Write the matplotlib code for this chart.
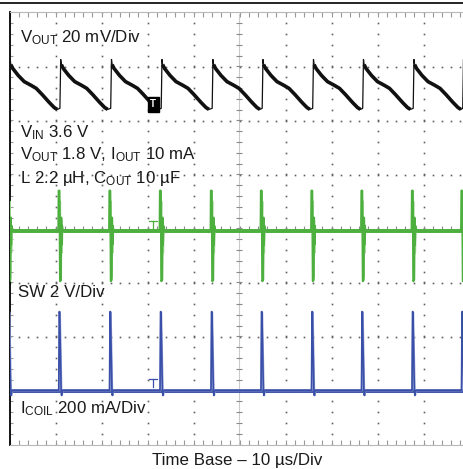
import numpy as np
import matplotlib
matplotlib.use("Agg")
import matplotlib.pyplot as plt
from matplotlib.lines import Line2D
from matplotlib.patches import Rectangle

plt.rcParams['font.family'] = ['Liberation Sans', 'DejaVu Sans']
plt.rcParams['mathtext.fontset'] = 'custom'
plt.rcParams['mathtext.rm'] = 'Liberation Sans'
plt.rcParams['mathtext.it'] = 'Liberation Sans:italic'

# scope settings
T_DIV = 10.0        # us / div
VOUT_DIV = 20.0     # mV / div
SW_DIV = 2.0        # V / div
ICOIL_DIV = 200.0   # mA / div
VOUT_POS = 2.6      # channel offsets (div)
SW_POS = 0.0
ICOIL_POS = -3.0
TRIG_T = 31.2       # us

# switching events (us), read from the SW / ICOIL spikes
pulse_t = [-0.28, 10.70, 21.74, 32.72, 43.80, 54.67, 65.65, 76.52, 87.50, 98.26]

# VOUT ripple for one cycle after each event: time after event (us), ripple (mV)
vout_dt = [0.26, 0.43, 0.57, 0.98, 2.17, 3.48, 5.00, 6.09, 7.39, 8.91, 10.00, 10.65]
vout_mv = [-7.5, 10.6, 8.7, 7.3, 4.7, 2.4, 1.0, -0.1, -2.4, -5.3, -7.2, -7.9]

# SW node ringing around each event (V)
sw_base = -0.1
sw_dt = [-0.07, 0.00, 0.15, 0.22, 0.30, 0.46, 0.54, 0.62, 0.72, 0.85]
sw_v = [-0.1, 1.4, 1.4, 0.2, -1.95, -1.9, 0.4, -0.6, 0.1, -0.1]
sw_ring_dt = [0.05, 0.18, 0.30, 0.42, 0.55, 0.68]
sw_ring_v = [-0.1, 1.0, -1.8, 0.3, -0.9, -0.1]

# inductor current pulse (mA)
icoil_base = 0.0
icoil_dt = [-0.07, 0.00, 0.12, 0.20, 0.52, 0.62, 0.78]
icoil_ma = [0, 0, 292, 288, 0, -18, 0]


def build(events, dt, vals, skip=0, gap=False):
    t, v = [], []
    for e in events:
        for d, val in list(zip(dt, vals))[skip:]:
            t.append(e + d)
            v.append(val)
        if gap:
            t.append(np.nan)
            v.append(np.nan)
    return np.array(t), np.array(v)


W, H = 463, 469
fig = plt.figure(figsize=(W / 100, H / 100), dpi=100)
x0, x1, ytop, ybot = 9.5, 463, 12.5, 444.5
ax = fig.add_axes([x0 / W, 1 - ybot / H, (x1 - x0) / W, (ybot - ytop) / H])
xmax = (x1 - x0) / 46.0
ax.set_xlim(0, xmax)
ax.set_ylim(-4, 4)

# frame
ax.spines['right'].set_visible(False)
ax.spines['left'].set_color('black')
ax.spines['left'].set_linewidth(1.3)
for s in ['top', 'bottom']:
    ax.spines[s].set_color('#b8b8b8')
    ax.spines[s].set_linewidth(0.8)
ax.set_xticks(np.arange(0, xmax, 0.2))
ax.set_yticks(np.arange(-4, 4.01, 0.2))
ax.tick_params(axis='x', top=True, bottom=True, direction='in', length=3.5,
               width=0.8, color='#999999', labelbottom=False)
ax.tick_params(axis='y', left=True, direction='in', length=2, width=0.8,
               color='#999999', labelleft=False)

# dotted graticule
minor_y = np.arange(-4, 4.01, 0.2)
minor_x = np.arange(0, xmax, 0.2)
for gx in range(1, 10):
    if gx == 5:
        continue
    ax.plot(np.full_like(minor_y, gx), minor_y, ls='none', marker='s', ms=1.2,
            mew=0, color='#606060', zorder=1)
for gy in [-3, -2, -1, 1, 2, 3]:
    ax.plot(minor_x, np.full_like(minor_x, gy), ls='none', marker='s', ms=1.2,
            mew=0, color='#606060', zorder=1)
# centre axes
ax.plot([0, xmax], [0, 0], ls=(0, (0.8, 1.0)), lw=0.8, color='#8a8a8a', zorder=1)
ax.plot(minor_x, np.zeros_like(minor_x), ls='none', marker='|', ms=4, mew=0.8,
        color='#8a8a8a', zorder=1)
ax.plot([4.98, 4.98], [-4, 4], ls=(0, (0.8, 1.0)), lw=0.8, color='#8a8a8a', zorder=1)
ax.plot(np.full_like(minor_y, 4.98), minor_y, ls='none', marker='_', ms=4, mew=0.8,
        color='#8a8a8a', zorder=1)

# VOUT trace
tv, vv = build(pulse_t, vout_dt, vout_mv)
ax.plot(tv / T_DIV, VOUT_POS + vv / VOUT_DIV, color='#111111', lw=0.9, zorder=5)
tv2, vv2 = build(pulse_t, vout_dt, vout_mv, skip=2, gap=True)
ax.plot(tv2 / T_DIV, VOUT_POS + vv2 / VOUT_DIV, color='#111111', lw=2.6,
        solid_capstyle='butt', zorder=5)

# SW trace
ts, vs = build(pulse_t, sw_dt, sw_v)
tr, vr = build(pulse_t, sw_ring_dt, sw_ring_v, gap=True)
ax.plot([0, xmax], [SW_POS + sw_base / SW_DIV] * 2, color='#4caf3e', lw=2.8,
        solid_capstyle='butt', zorder=4)
ax.plot((tr + 0.1) / T_DIV, SW_POS + vr / SW_DIV, color='#a8dc9c', lw=1.6, zorder=4)
ax.plot(ts / T_DIV, SW_POS + vs / SW_DIV, color='#4caf3e', lw=1.6, zorder=4)

# ICOIL trace
ti, vi = build(pulse_t, icoil_dt, icoil_ma)
ax.plot([0, xmax], [ICOIL_POS + icoil_base / ICOIL_DIV] * 2, color='#3a4fa8', lw=2.8,
        solid_capstyle='butt', zorder=4)
ax.plot((ti + 0.08) / T_DIV, ICOIL_POS + vi / ICOIL_DIV, color='#9aa6d8', lw=1.4,
        zorder=4)
ax.plot(ti / T_DIV, ICOIL_POS + vi / ICOIL_DIV, color='#3a4fa8', lw=1.2, zorder=4)

# trigger markers
tx = TRIG_T / T_DIV
ax.add_patch(Rectangle((tx - 0.12, 2.16), 0.24, 0.28, color='black', zorder=6))
ax.text(tx, 2.30, 'T', color='white', fontsize=7, fontweight='bold',
        ha='center', va='center', zorder=7)
for yb, col in [(SW_POS + 0.13, '#4caf3e'), (ICOIL_POS + 0.22, '#3a4fa8')]:
    ax.plot([tx - 0.08, tx + 0.08], [yb, yb], color=col, lw=0.9, zorder=4)
    ax.plot([tx, tx], [yb, yb - 0.15], color=col, lw=0.9, zorder=4)

# top rule
fig.add_artist(Line2D([0, 1], [1 - 3.5 / H, 1 - 3.5 / H], color='black', lw=1.2))

# labels
fs = 12.2
tc = '#1a1a1a'
labels = [
    (20, 42.5, r'V$_{\mathrm{OUT}}$ 20 mV/Div'),
    (20, 137.5, r'V$_{\mathrm{IN}}$ 3.6 V'),
    (20, 159.5, r'V$_{\mathrm{OUT}}$ 1.8 V, I$_{\mathrm{OUT}}$ 10 mA'),
    (20, 183, r'L 2.2 µH, C$_{\mathrm{OUT}}$ 10 µF'),
    (18, 297, 'SW 2 V/Div'),
    (20, 413, r'I$_{\mathrm{COIL}}$ 200 mA/Div'),
]
for px, py, s in labels:
    fig.text(px / W, 1 - py / H, s, fontsize=fs, color=tc, va='baseline', ha='left')
fig.text(237 / W, 1 - 465 / H, 'Time Base – 10 µs/Div', fontsize=fs, color=tc,
         va='baseline', ha='center')

fig.savefig('out.png', dpi=100)
